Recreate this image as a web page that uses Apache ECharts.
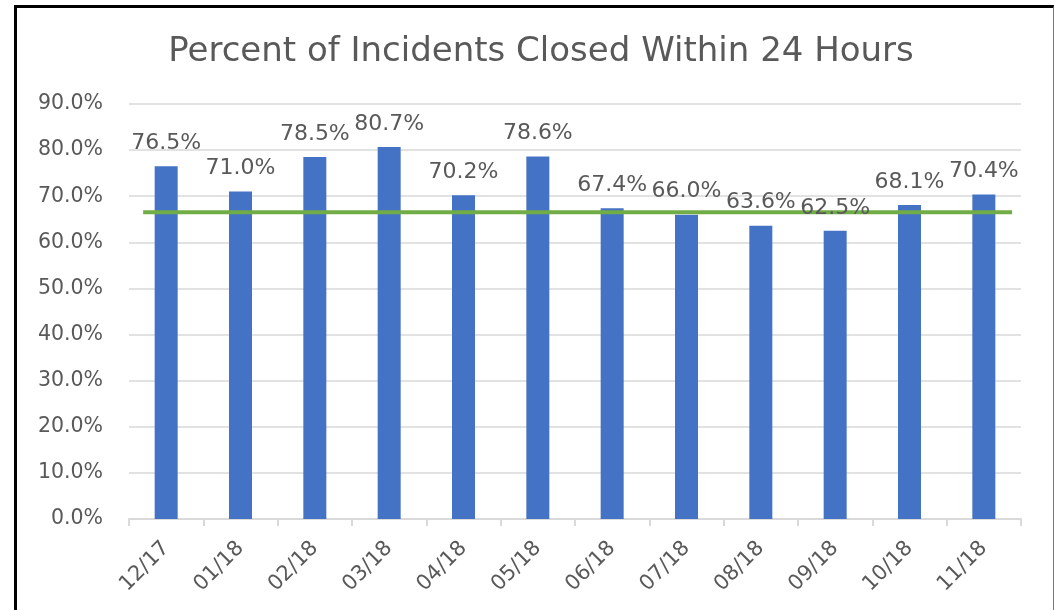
<!DOCTYPE html>
<html>
<head>
<meta charset="utf-8">
<script src="https://cdn.jsdelivr.net/npm/echarts@6/dist/echarts.min.js"></script>
<style>
  body { margin: 0; background: #fff; }
  #chart { position: absolute; left: 0; top: 0; width: 1054px; height: 610px; }
  #frame {
    position: absolute; left: 14px; top: 5px; width: 1036px; height: 620px;
    border-left: 3px solid #000; border-top: 3px solid #000; border-right: 1px solid #777;
    pointer-events: none;
  }
</style>
</head>
<body>
<div id="chart"></div>
<div id="frame"></div>
<script>
var months = ['12/17', '01/18', '02/18', '03/18', '04/18', '05/18', '06/18', '07/18', '08/18', '09/18', '10/18', '11/18'];
var closedPct = [76.5, 71.0, 78.5, 80.7, 70.2, 78.6, 67.4, 66.0, 63.6, 62.5, 68.1, 70.4];
var targetPct = 66.5;
// target line runs slightly past the first and last bars
var targetSpan = [-0.31, 11.38];
var yTicks = [0, 10, 20, 30, 40, 50, 60, 70, 80, 90];

var textColor = '#595959';
var font = "'DejaVu Sans', sans-serif";

function pct(v) { return v.toFixed(1) + '%'; }

var chart = echarts.init(document.getElementById('chart'));
chart.setOption({
    animation: false,
    title: {
        text: 'Percent of Incidents Closed Within 24 Hours',
        left: 536,
        textAlign: 'center',
        top: 30,
        textStyle: { color: textColor, fontSize: 34, fontWeight: 'normal', fontFamily: font }
    },
    grid: { left: 129, right: 33, top: 104, bottom: 91 },
    xAxis: [{
        type: 'category',
        data: months,
        axisLine: { lineStyle: { color: '#d9d9d9', width: 2 } },
        axisTick: { show: true, length: 7, lineStyle: { color: '#d9d9d9', width: 2 } },
        axisLabel: { rotate: 45, color: textColor, fontSize: 21, fontFamily: font, margin: 26 }
    }, {
        type: 'value',
        min: -0.5,
        max: 11.5,
        show: false
    }],
    yAxis: {
        type: 'value',
        min: yTicks[0],
        max: yTicks[yTicks.length - 1],
        interval: 10,
        axisLine: { show: false },
        axisTick: { show: false },
        splitLine: { lineStyle: { color: '#d9d9d9', width: 1.5 } },
        axisLabel: { color: textColor, fontSize: 20.5, fontFamily: font, margin: 26, formatter: pct }
    },
    series: [{
        type: 'bar',
        data: closedPct,
        barWidth: 23,
        itemStyle: { color: '#4472C4' },
        z: 2
    }, {
        type: 'line',
        xAxisIndex: 1,
        data: targetSpan.map(function (x) { return [x, targetPct]; }),
        symbol: 'none',
        lineStyle: { color: '#70AD47', width: 4 },
        z: 3
    }, {
        // value labels drawn above the target line
        type: 'bar',
        data: closedPct,
        barWidth: 23,
        barGap: '-100%',
        itemStyle: { color: 'transparent' },
        label: {
            show: true,
            position: 'top',
            distance: 12,
            color: textColor,
            fontSize: 22,
            fontFamily: font,
            formatter: function (p) { return pct(p.value); }
        },
        z: 4
    }]
});
</script>
</body>
</html>
